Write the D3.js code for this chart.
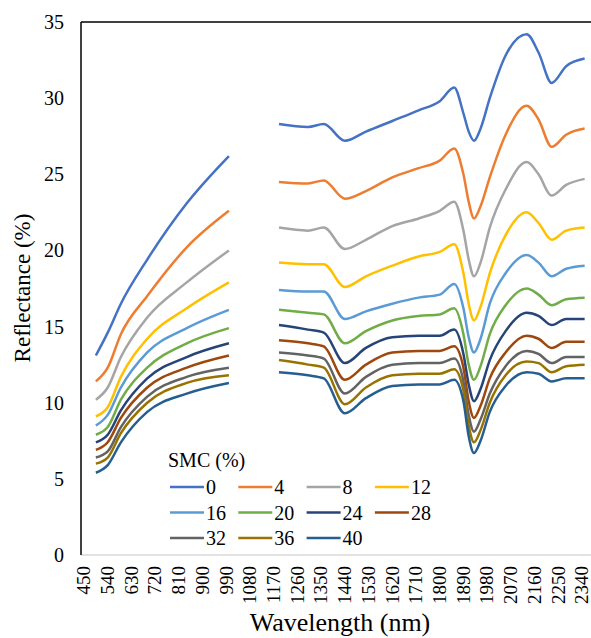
<!DOCTYPE html>
<html>
<head>
<meta charset="utf-8">
<script src="https://cdn.jsdelivr.net/npm/d3@7"></script>
<style>
  body { margin: 0; background: #fff; }
</style>
</head>
<body>
<svg></svg>
<script>
const width = 591;
const height = 638;

// soil moisture levels (legend)
const smcLevels = [0, 4, 8, 12, 16, 20, 24, 28, 32, 36, 40];

// x tick labels (nm)
const xTicks = d3.range(450, 2341, 90);
const yTicks = [0, 5, 10, 15, 20, 25, 30, 35];

// wavelengths of the two measured segments (water band 1000-1190 removed)
const wlVnir = [495, 540, 590, 690, 840, 1000];
const wlSwir = [1190, 1300, 1360, 1440, 1520, 1620, 1720, 1800, 1855, 1890, 1910, 1930, 1955, 1990, 2050, 2130, 2175, 2225, 2280, 2350];

// reflectance (%) per SMC level
const reflVnir = [
  [13.1, 14.6, 16.5, 19.4, 23.1, 26.2],
  [11.4, 12.3, 14.5, 17.0, 20.2, 22.6],
  [10.2, 11.0, 13.0, 15.6, 17.9, 20.0],
  [9.1, 9.7, 11.7, 14.2, 16.2, 17.9],
  [8.5, 9.2, 11.0, 13.3, 14.9, 16.1],
  [7.9, 8.4, 10.2, 12.3, 13.9, 14.9],
  [7.4, 7.9, 9.5, 11.6, 13.0, 13.9],
  [6.9, 7.4, 9.0, 11.0, 12.3, 13.1],
  [6.4, 6.8, 8.4, 10.4, 11.7, 12.3],
  [6.0, 6.4, 8.0, 10.0, 11.3, 11.8],
  [5.4, 5.9, 7.4, 9.4, 10.6, 11.3]
];
const reflSwir = [
  [28.3, 28.1, 28.3, 27.2, 27.8, 28.5, 29.2, 29.8, 30.7, 29.0, 27.8, 27.2, 28.0, 30.0, 32.8, 34.2, 33.0, 31.0, 32.1, 32.6],
  [24.5, 24.4, 24.6, 23.4, 23.9, 24.8, 25.4, 25.9, 26.7, 25.0, 23.2, 22.1, 22.9, 24.8, 27.6, 29.5, 28.6, 26.8, 27.6, 28.0],
  [21.5, 21.3, 21.5, 20.1, 20.7, 21.6, 22.1, 22.6, 23.2, 21.3, 19.4, 18.3, 19.2, 21.5, 24.0, 25.8, 25.0, 23.6, 24.3, 24.7],
  [19.2, 19.1, 19.1, 17.6, 18.3, 19.0, 19.6, 19.9, 20.4, 18.5, 16.5, 15.4, 16.3, 18.5, 21.0, 22.5, 21.8, 20.7, 21.3, 21.5],
  [17.4, 17.3, 17.3, 15.5, 16.0, 16.5, 16.9, 17.1, 17.8, 16.2, 14.3, 13.3, 14.2, 16.5, 18.5, 19.7, 19.2, 18.3, 18.8, 19.0],
  [16.1, 15.9, 15.8, 13.9, 14.7, 15.4, 15.7, 15.8, 16.2, 14.5, 12.5, 11.5, 12.4, 14.5, 16.4, 17.5, 17.1, 16.4, 16.8, 16.9],
  [15.1, 14.8, 14.6, 12.6, 13.6, 14.3, 14.4, 14.4, 14.8, 13.2, 11.2, 10.1, 10.9, 12.8, 14.7, 15.9, 15.7, 15.1, 15.5, 15.5],
  [14.1, 13.9, 13.7, 11.5, 12.5, 13.3, 13.4, 13.4, 13.7, 12.3, 10.1, 9.0, 9.8, 11.6, 13.3, 14.4, 14.2, 13.6, 14.0, 14.0],
  [13.3, 13.1, 12.9, 10.6, 11.7, 12.5, 12.6, 12.6, 12.9, 11.4, 9.2, 8.1, 8.9, 10.6, 12.4, 13.4, 13.2, 12.6, 13.0, 13.0],
  [12.8, 12.5, 12.3, 9.9, 11.0, 11.8, 11.9, 11.9, 12.2, 10.8, 8.5, 7.4, 8.2, 10.0, 11.8, 12.7, 12.6, 12.0, 12.4, 12.5],
  [12.0, 11.8, 11.6, 9.3, 10.3, 11.1, 11.2, 11.2, 11.5, 10.1, 7.8, 6.7, 7.5, 9.4, 11.1, 12.0, 11.9, 11.4, 11.6, 11.6]
];

const colors = ['#4472C4', '#ED7D31', '#A5A5A5', '#FFC000', '#5B9BD5', '#70AD47',
                '#264478', '#9E480E', '#636363', '#997300', '#255E91'];

const plot = {left: 81, top: 22, right: 591, bottom: 555};
const serif = "'Liberation Serif', Tinos, 'Times New Roman', Times, 'Noto Serif', 'DejaVu Serif', FreeSerif, serif";

let svg = d3.select('svg')
  .attr('width', width).attr('height', height)
  .style('font-family', serif);

let x = d3.scaleLinear().domain([450, 2340]).range([84, 582]);
let y = d3.scaleLinear().domain([0, 35]).range([plot.bottom, plot.top]);

// axes lines: black left + top border, light grey bottom axis
svg.append('line')
  .attr('x1', plot.left).attr('x2', plot.right).attr('y1', plot.bottom).attr('y2', plot.bottom)
  .attr('stroke', '#d9d9d9').attr('stroke-width', 1.5);
svg.append('line')
  .attr('x1', plot.left).attr('x2', plot.right).attr('y1', plot.top).attr('y2', plot.top)
  .attr('stroke', '#000').attr('stroke-width', 1.5);
svg.append('line')
  .attr('x1', plot.left).attr('x2', plot.left).attr('y1', plot.top).attr('y2', plot.bottom)
  .attr('stroke', '#000').attr('stroke-width', 1.5);

// y tick labels
svg.selectAll('.ytick').data(yTicks).enter().append('text')
  .attr('class', 'ytick')
  .attr('x', 64).attr('y', d => y(d)).attr('dy', '0.35em')
  .attr('text-anchor', 'end').attr('font-size', 20)
  .text(d => d);

// x tick labels, rotated
svg.selectAll('.xtick').data(xTicks).enter().append('text')
  .attr('class', 'xtick')
  .attr('transform', d => `translate(${x(d)},566) rotate(-90)`)
  .attr('dy', '0.33em').attr('text-anchor', 'end').attr('font-size', 19)
  .text(d => d);

// axis titles
svg.append('text')
  .attr('transform', 'translate(30,288) rotate(-90)')
  .attr('text-anchor', 'middle').attr('font-size', 23)
  .text('Reflectance (%)');
svg.append('text')
  .attr('x', 340).attr('y', 631)
  .attr('text-anchor', 'middle').attr('font-size', 26)
  .text('Wavelength (nm)');

// spectra
let line = d3.line()
  .x(d => x(d[0]))
  .y(d => y(d[1]))
  .curve(d3.curveMonotoneX);

smcLevels.forEach((smc, i) => {
  let segs = [
    wlVnir.map((w, j) => [w, reflVnir[i][j]]),
    wlSwir.map((w, j) => [w, reflSwir[i][j]])
  ];
  segs.forEach(seg => {
    svg.append('path')
      .attr('d', line(seg))
      .attr('fill', 'none')
      .attr('stroke', colors[i])
      .attr('stroke-width', 2.5)
      .attr('stroke-linejoin', 'round');
  });
});

// legend
let legend = svg.append('g');
legend.append('text')
  .attr('x', 168).attr('y', 467)
  .attr('font-size', 20)
  .text('SMC (%)');

let items = legend.selectAll('g.item').data(smcLevels).enter().append('g')
  .attr('class', 'item')
  .attr('transform', (d, i) => `translate(${170 + (i % 4) * 68.3},${487 + Math.floor(i / 4) * 25.5})`);
items.append('line')
  .attr('x1', 0).attr('x2', 34).attr('y1', 0).attr('y2', 0)
  .attr('stroke', (d, i) => colors[i]).attr('stroke-width', 2.5);
items.append('text')
  .attr('x', 36).attr('dy', '0.35em')
  .attr('font-size', 20)
  .text(d => d);
</script>
</body>
</html>
